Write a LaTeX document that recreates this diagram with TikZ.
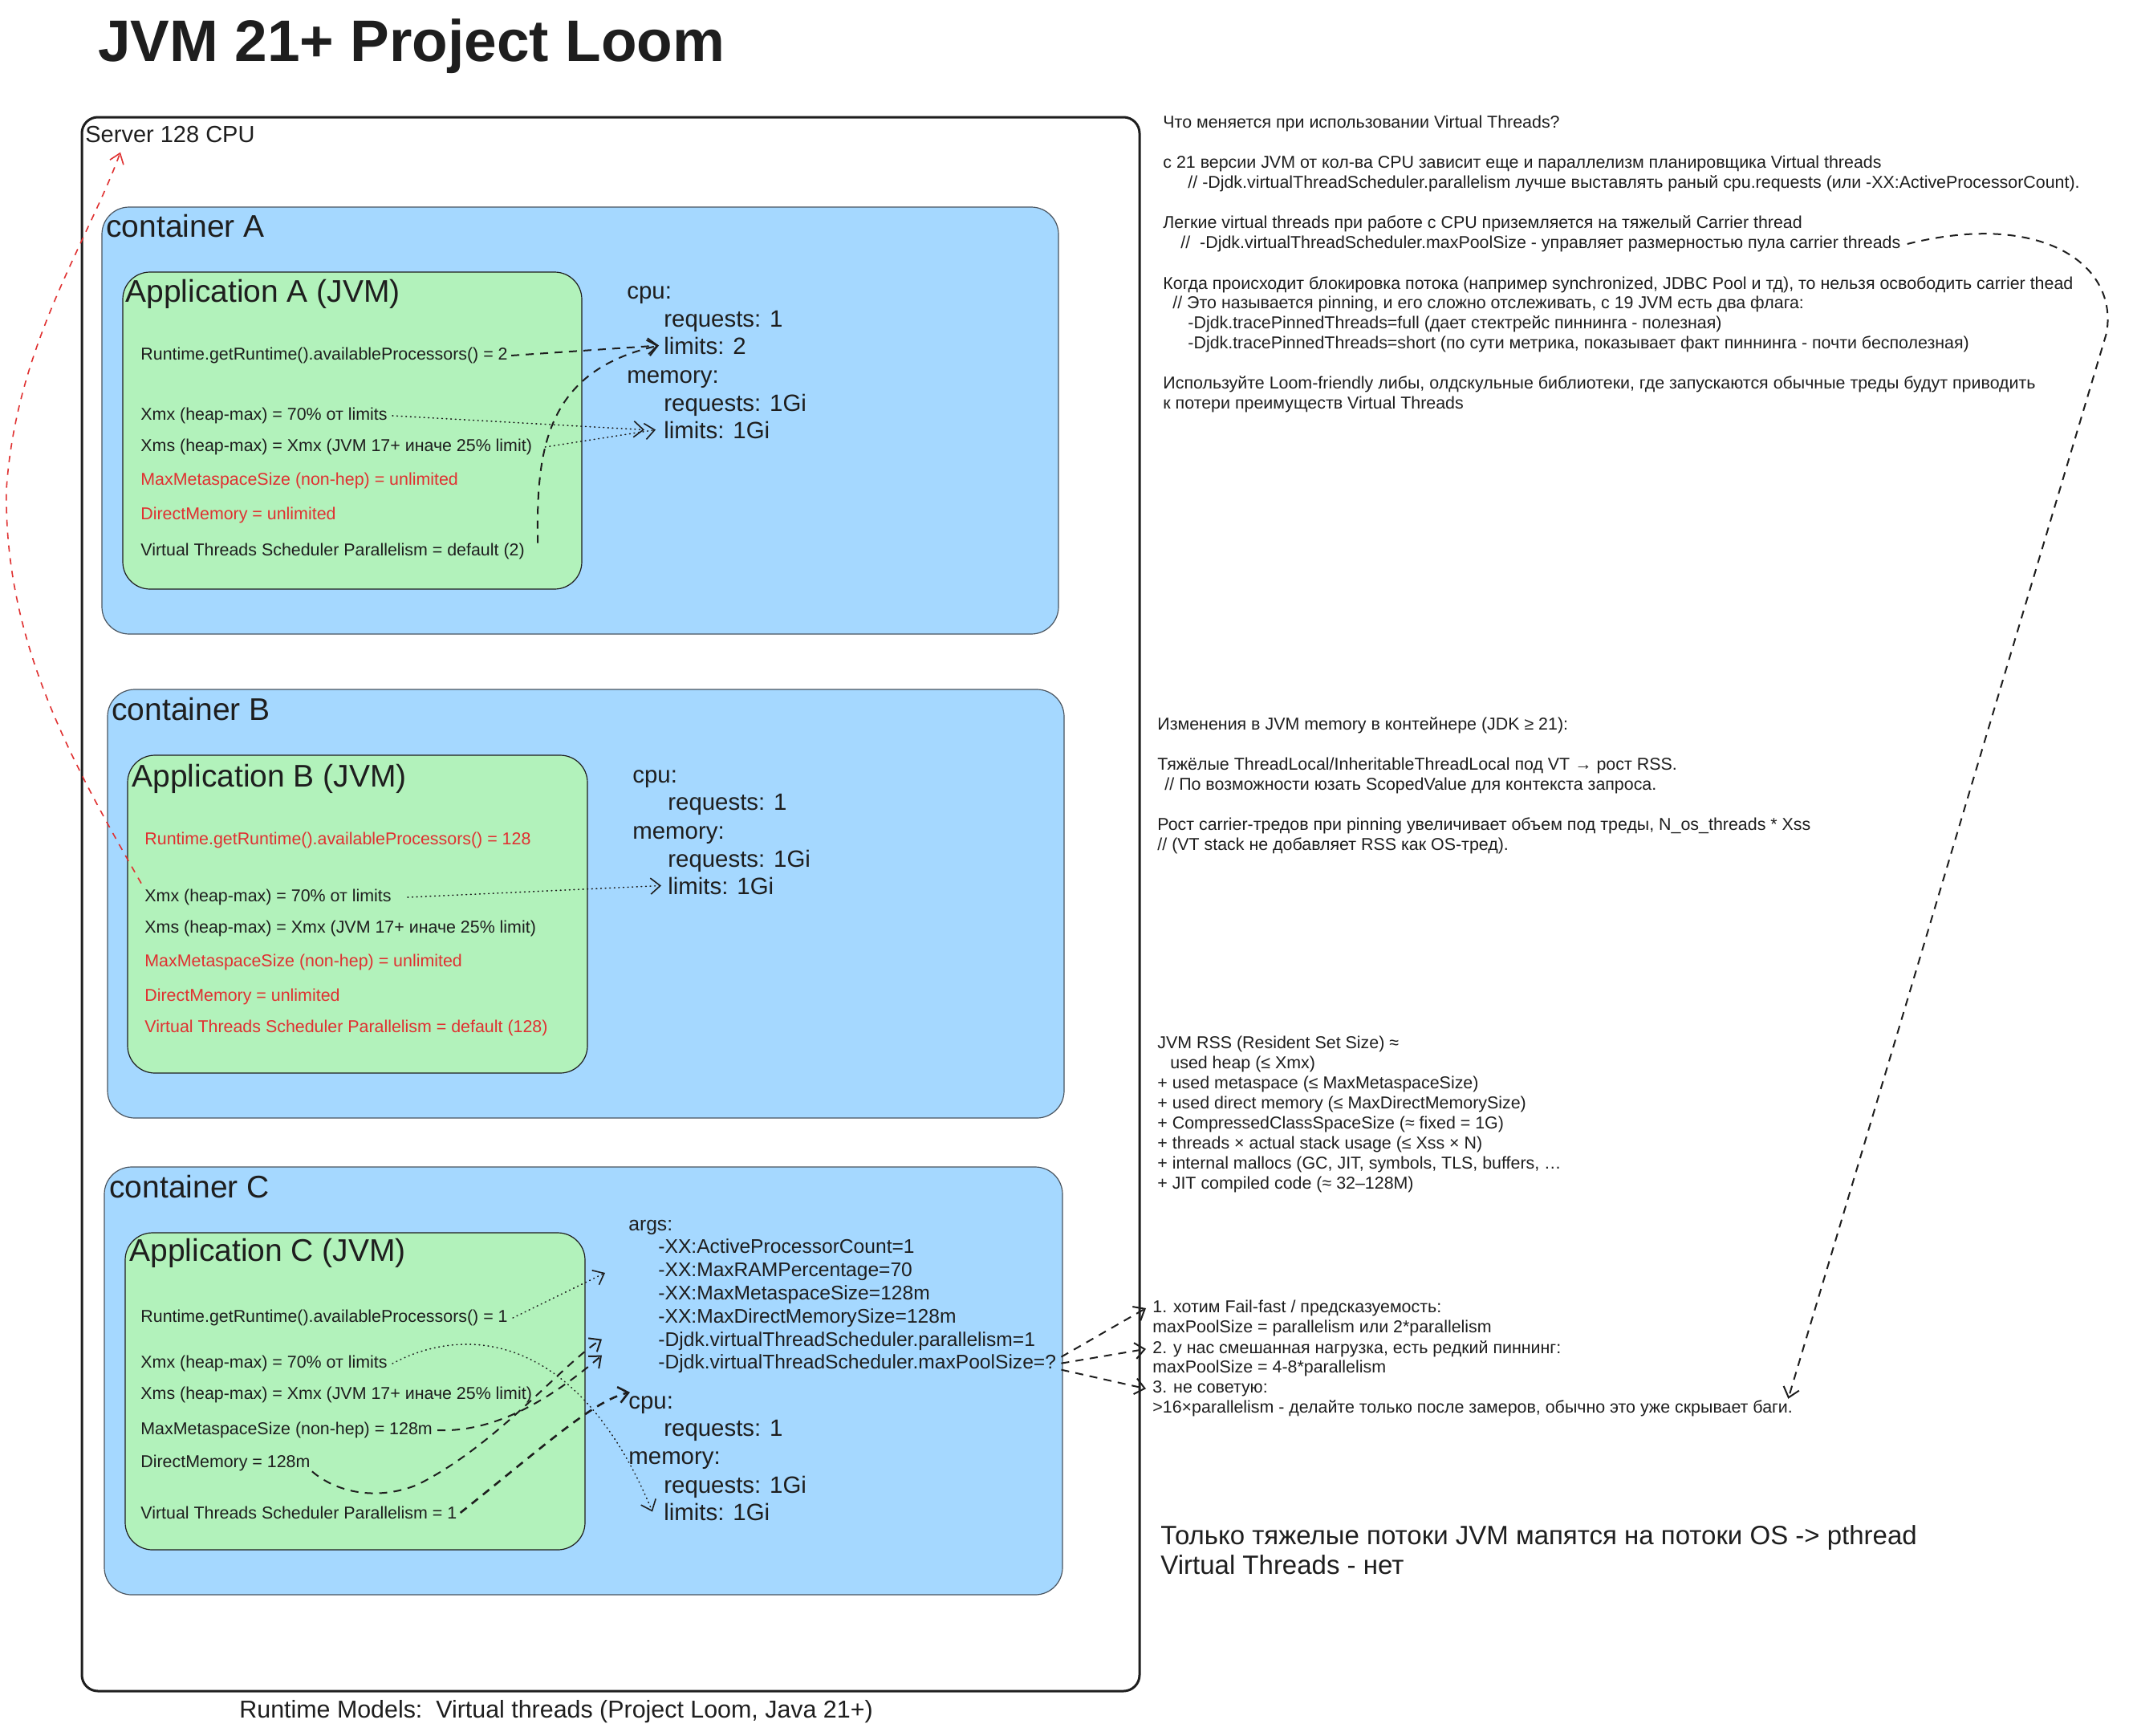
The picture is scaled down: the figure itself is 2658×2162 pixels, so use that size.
\documentclass[tikz,border=0pt]{standalone}
\usepackage{fontspec}
\setmainfont{Liberation Sans}
\usetikzlibrary{arrows.meta,calc}
\definecolor{ink}{HTML}{1E1E1E}
\definecolor{jred}{HTML}{E03131}
\definecolor{cblue}{HTML}{A5D8FF}
\definecolor{cgreen}{HTML}{B2F2BB}
\definecolor{cedge}{HTML}{4A5560}
\begin{document}
\begin{tikzpicture}[x=0.5pt,y=-0.5pt,
  txt/.style={anchor=base west, inner sep=0pt, text=ink, font=\fontsize{10.7}{12.5}\selectfont},
  rtxt/.style={txt, text=jred},
  cfg/.style={anchor=base west, inner sep=0pt, text=ink, font=\fontsize{14.7}{17}\selectfont},
  argtxt/.style={anchor=base west, inner sep=0pt, text=ink, font=\fontsize{12.3}{14.5}\selectfont},
  hdr/.style={anchor=base west, inner sep=0pt, text=ink, font=\fontsize{19.5}{23}\selectfont},
  bigtxt/.style={anchor=base west, inner sep=0pt, text=ink, font=\fontsize{16.5}{19}\selectfont},
  cbox/.style={draw=cedge, fill=cblue, line width=0.6pt, rounded corners=17pt},
  abox/.style={draw=ink, fill=cgreen, line width=0.6pt, rounded corners=17pt},
  dasharr/.style={draw=ink, line width=1pt, dash pattern=on 5pt off 4pt, -{Straight Barb[length=6pt,width=10pt]}},
  dotarr/.style={draw=ink, line width=0.8pt, dash pattern=on 0.4pt off 2.4pt, line cap=round, -{Straight Barb[length=6pt,width=10pt]}},
  redarr/.style={draw=jred, line width=0.8pt, dash pattern=on 4pt off 4pt, -{Straight Barb[length=6pt,width=9pt]}}
]
\useasboundingbox (0,0) rectangle (2658,2162);
\fill[white] (0,0) rectangle (2658,2162);

% title
\node[anchor=base west, inner sep=0pt, text=ink, font=\bfseries\fontsize{36.5}{40}\selectfont] (title) at (122,76) {JVM 21+ Project Loom};

% server
\draw[ink, line width=1.5pt, rounded corners=10pt] (102,146) rectangle (1420,2107);
\node[anchor=base west, inner sep=0pt, text=ink, font=\fontsize{14.5}{17}\selectfont] (srv) at (106,177) {Server 128 CPU};

% containers and applications
\path[cbox] (127,258) rectangle (1319,790);
\path[cbox] (134,859) rectangle (1326,1393);
\path[cbox] (130,1454) rectangle (1324,1987);
\path[abox] (153,339) rectangle (725,734);
\path[abox] (159,941) rectangle (732,1337);
\path[abox] (156,1536) rectangle (729,1931);

% container A
\node[hdr] (cAt) at (132,295) {container A};
\node[hdr] (aT) at (156,376) {Application A (JVM)};
\node[txt] (a1) at (175,448.5) {Runtime.getRuntime().availableProcessors() = 2};
\node[txt] (a2) at (175,523.5) {Xmx (heap-max) = 70\% от limits};
\node[txt] (a3) at (175,562.5) {Xms (heap-max) = Xmx (JVM 17+ иначе 25\% limit)};
\node[rtxt] (a4) at (175,604.5) {MaxMetaspaceSize (non-hep) = unlimited};
\node[rtxt] (a5) at (175,647.5) {DirectMemory = unlimited};
\node[txt] (a6) at (175,692.5) {Virtual Threads Scheduler Parallelism = default (2)};
\node[cfg] (ca1) at (781,372) {cpu:};
\node[cfg] (ca2) at (827,407) {requests: 1};
\node[cfg] (ca3) at (827,441) {limits: 2};
\node[cfg] (ca4) at (781,477) {memory:};
\node[cfg] (ca5) at (827,512) {requests: 1Gi};
\node[cfg] (ca6) at (827,546) {limits: 1Gi};

% container B
\node[hdr] (cBt) at (139,897) {container B};
\node[hdr] (bT) at (164,980) {Application B (JVM)};
\node[rtxt] (b1) at (180,1052.5) {Runtime.getRuntime().availableProcessors() = 128};
\node[txt] (b2) at (180,1123.5) {Xmx (heap-max) = 70\% от limits};
\node[txt] (b3) at (180,1162.5) {Xms (heap-max) = Xmx (JVM 17+ иначе 25\% limit)};
\node[rtxt] (b4) at (180,1204.5) {MaxMetaspaceSize (non-hep) = unlimited};
\node[rtxt] (b5) at (180,1247.5) {DirectMemory = unlimited};
\node[rtxt] (b6) at (180,1286.5) {Virtual Threads Scheduler Parallelism = default (128)};
\node[cfg] (cb1) at (788,975) {cpu:};
\node[cfg] (cb2) at (832,1009) {requests: 1};
\node[cfg] (cb3) at (788,1045) {memory:};
\node[cfg] (cb4) at (832,1080) {requests: 1Gi};
\node[cfg] (cb5) at (832,1114) {limits: 1Gi};

% container C
\node[hdr] (cCt) at (136,1492) {container C};
\node[hdr] (cT) at (161,1571) {Application C (JVM)};
\node[txt] (c1) at (175,1647.5) {Runtime.getRuntime().availableProcessors() = 1};
\node[txt] (c2) at (175,1704.5) {Xmx (heap-max) = 70\% от limits};
\node[txt] (c3) at (175,1743.5) {Xms (heap-max) = Xmx (JVM 17+ иначе 25\% limit)};
\node[txt] (c4) at (175,1787.5) {MaxMetaspaceSize (non-hep) = 128m};
\node[txt] (c5) at (175,1828.5) {DirectMemory = 128m};
\node[txt] (c6) at (175,1892.5) {Virtual Threads Scheduler Parallelism = 1};
\node[argtxt] (g0) at (783,1533) {args:};
\node[argtxt] (g1) at (820,1561) {-XX:ActiveProcessorCount=1};
\node[argtxt] (g2) at (820,1590) {-XX:MaxRAMPercentage=70};
\node[argtxt] (g3) at (820,1619) {-XX:MaxMetaspaceSize=128m};
\node[argtxt] (g4) at (820,1648) {-XX:MaxDirectMemorySize=128m};
\node[argtxt] (g5) at (820,1677) {-Djdk.virtualThreadScheduler.parallelism=1};
\node[argtxt] (g6) at (820,1705) {-Djdk.virtualThreadScheduler.maxPoolSize=?};
\node[cfg] (cc1) at (783,1755) {cpu:};
\node[cfg] (cc2) at (827,1789) {requests: 1};
\node[cfg] (cc3) at (783,1824) {memory:};
\node[cfg] (cc4) at (827,1860) {requests: 1Gi};
\node[cfg] (cc5) at (827,1894) {limits: 1Gi};

% notes block 1
\node[txt] (n1) at (1449,159.5) {Что меняется при использовании Virtual Threads?};
\node[txt] (n2) at (1449,209.5) {с 21 версии JVM от кол-ва CPU зависит еще и параллелизм планировщика Virtual threads};
\node[txt] (n3) at (1480,234.5) {// -Djdk.virtualThreadScheduler.parallelism лучше выставлять раный cpu.requests (или -XX:ActiveProcessorCount).};
\node[txt] (n4) at (1449,284.5) {Легкие virtual threads при работе с CPU приземляется на тяжелый Carrier thread};
\node[txt] (n5) at (1471,309.5) {//\ \ -Djdk.virtualThreadScheduler.maxPoolSize - управляет размерностью пула carrier threads};
\node[txt] (n6) at (1449,360.5) {Когда происходит блокировка потока (например synchronized, JDBC Pool и тд), то нельзя освободить carrier thead};
\node[txt] (n7) at (1461,384.5) {// Это называется pinning, и его сложно отслеживать, с 19 JVM есть два флага:};
\node[txt] (n8) at (1480,409.5) {-Djdk.tracePinnedThreads=full (дает стектрейс пиннинга - полезная)};
\node[txt] (n9) at (1480,434.5) {-Djdk.tracePinnedThreads=short (по сути метрика, показывает факт пиннинга - почти бесполезная)};
\node[txt] (n10) at (1449,484.5) {Используйте Loom-friendly либы, олдскульные библиотеки, где запускаются обычные треды будут приводить};
\node[txt] (n11) at (1449,509.5) {к потери преимуществ Virtual Threads};

% notes block 2
\node[txt] (m1) at (1442,909.5) {Изменения в JVM memory в контейнере (JDK ≥ 21):};
\node[txt] (m2) at (1442,959.5) {Тяжёлые ThreadLocal/InheritableThreadLocal под VT → рост RSS.};
\node[txt] (m3) at (1451,984.5) {// По возможности юзать ScopedValue для контекста запроса.};
\node[txt] (m4) at (1442,1034.5) {Рост carrier-тредов при pinning увеличивает объем под треды, N\_os\_threads * Xss};
\node[txt] (m5) at (1442,1059.5) {// (VT stack не добавляет RSS как OS-тред).};

% notes block 3
\node[txt] (r1) at (1442,1306.5) {JVM RSS (Resident Set Size) ≈};
\node[txt] (r2) at (1458,1331.5) {used heap (≤ Xmx)};
\node[txt] (r3) at (1442,1356.5) {+ used metaspace (≤ MaxMetaspaceSize)};
\node[txt] (r4) at (1442,1381.5) {+ used direct memory (≤ MaxDirectMemorySize)};
\node[txt] (r5) at (1442,1406.5) {+ CompressedClassSpaceSize (≈ fixed = 1G)};
\node[txt] (r6) at (1442,1431.5) {+ threads × actual stack usage (≤ Xss × N)};
\node[txt] (r7) at (1442,1456.5) {+ internal mallocs (GC, JIT, symbols, TLS, buffers, …};
\node[txt] (r8) at (1442,1481.5) {+ JIT compiled code (≈ 32–128M)};

% notes block 4
\node[txt] (d1) at (1436,1635.5) {1. хотим Fail-fast / предсказуемость:};
\node[txt] (d2) at (1436,1660.5) {maxPoolSize = parallelism или 2*parallelism};
\node[txt] (d3) at (1436,1686.5) {2. у нас смешанная нагрузка, есть редкий пиннинг:};
\node[txt] (d4) at (1436,1710.5) {maxPoolSize = 4-8*parallelism};
\node[txt] (d5) at (1436,1735.5) {3. не советую:};
\node[txt] (d6) at (1436,1760.5) {>16×parallelism - делайте только после замеров, обычно это уже скрывает баги.};

% block 5 and footer
\node[bigtxt] (e1) at (1446,1924) {Только тяжелые потоки JVM мапятся на потоки OS -> pthread};
\node[bigtxt] (e2) at (1446,1961) {Virtual Threads - нет};
\node[anchor=base west, inner sep=0pt, text=ink, font=\fontsize{15.2}{17}\selectfont] (foot) at (298,2140) {Runtime Models:\ \ Virtual threads (Project Loom, Java 21+)};

% connectors A
\draw[dasharr] ([xshift=2pt]a1.east) -- ([xshift=-3pt]ca3.west);
\draw[dasharr] ([xshift=8pt]a6.north east) .. controls (668,560) and (680,462) .. ([xshift=-3pt]ca3.west);
\draw[dotarr] ([xshift=3pt]a2.east) -- ([xshift=-12pt]ca6.west);
\draw[dotarr] ([xshift=8pt]a3.east) -- ([xshift=-5pt]ca6.west);

% connector B
\draw[dotarr] ([xshift=10pt]b2.east) -- ([xshift=-4pt]cb5.west);

% red connector
\draw[redarr] ($(b2.north west)+(-4,-7)$) .. controls (90,950) and (5,800) .. (8,610) .. controls (20,430) and (110,300) .. ($(srv.south west)+(44,12)$);

% connectors C
\draw[dotarr] ([xshift=3pt]c1.east) -- ($(g2.west)+(-66,2)$);
\draw[dotarr] ([xshift=3pt]c2.east) .. controls (580,1650) and (720,1660) .. ([xshift=-7pt]cc5.west);
\draw[dasharr] ([xshift=3pt]c4.east) .. controls (620,1785) and (690,1740) .. ($(g5.west)+(-70,18)$);
\draw[dasharr] ([xshift=1pt]c5.south east) .. controls (420,1860) and (470,1870) .. (520,1850) .. controls (620,1800) and (700,1700) .. ($(g5.west)+(-70,-2)$);
\draw[dasharr, line width=1.3pt] ([xshift=2pt]c6.east) .. controls (680,1800) and (740,1745) .. ($(cc1.north west)+(2,-4)$);

% connectors to notes
\draw[dasharr] ([xshift=3pt,yshift=4pt]g6.east) -- ([xshift=-4pt]d1.west);
\draw[dasharr] ([xshift=3pt]g6.east) -- ([xshift=-4pt]d3.west);
\draw[dasharr] ([xshift=3pt,yshift=-4pt]g6.east) -- ([xshift=-4pt]d5.west);
\draw[dasharr] ([xshift=4pt]n5.east) .. controls (2545,262) and (2640,330) .. (2625,415) -- ($(d6.east)+(-6,-12)$);
\end{tikzpicture}
\end{document}
